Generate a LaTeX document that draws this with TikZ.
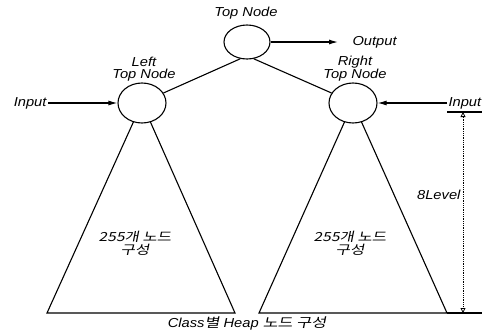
\documentclass[tikz,border=0pt]{standalone}
\usepackage{fontspec}
\setmainfont{Liberation Sans}[FakeStretch=1.13]
\newfontfamily\kr{Noto Sans CJK KR}[FakeSlant=0.2,FakeStretch=1.25]
\usetikzlibrary{shapes.geometric,arrows.meta}

\begin{document}
\begin{tikzpicture}[x=1pt, y=-1pt, line width=1.1pt,
	every node/.style={font=\fontsize{13}{12}\selectfont\itshape, inner sep=1pt},
	hnode/.style={draw, ellipse, fill=white, minimum width=48pt, minimum height=40pt, inner sep=0pt},
	feed/.style={-{Latex[length=9pt,width=5pt]}},
	dim/.style={densely dotted, line width=0.8pt, {Triangle[open,length=5pt,width=5pt]}-{Triangle[open,length=5pt,width=5pt]}}]
	\useasboundingbox (0,0) rectangle (488,333);
	% the two heaps
	\coordinate (lc) at (142,103);
	\coordinate (rc) at (353,103);
	\draw (lc) -- (47,313) -- (235,313) -- cycle;
	\draw (rc) -- (259,313) -- (447,313) -- cycle;
	\draw (447,313) -- (482,313);
	\draw (447,112) -- (482,112);
	\coordinate (dtop) at (463,112);
	\coordinate (dbot) at (463,313);
	\draw[dim] (dtop) -- (dbot);
	% nodes
	\node[hnode, minimum width=46pt, minimum height=34pt] (top) at (247,42) {};
	\node[hnode] (lt) at (lc) {};
	\node[hnode] (rt) at (rc) {};
	\node (toplbl) at (246,13) {Top Node};
	\node[align=center] (ltlbl) at (144,69) {Left\\Top Node};
	\node[align=center] (rtlbl) at (355,69) {Right\\Top Node};
	\node[anchor=east] (inl) at (48,103) {Input};
	\node[anchor=west] (inr) at (447,103) {Input};
	\node[anchor=west, inner xsep=14pt] (out) at (338,42) {Output};
	\node[anchor=east] (lvl) at (462,195) {8Level};
	\node[align=center, font=\fontsize{12.5}{13}\selectfont] (lheap) at (135,243) {\kr 255개 노드\\\kr 구성};
	\node[align=center, font=\fontsize{12.5}{13}\selectfont] (rheap) at (350,243) {\kr 255개 노드\\\kr 구성};
	\node (cap) at (247,323) {Class{\kr 별} Heap {\kr 노드 구성}};
	% links
	\draw (top.-112) -- (lt.25);
	\draw (top.-68) -- (rt.155);
	\draw[feed] (top) -- (out);
	\draw[feed] (inl) -- (lt);
	\draw[feed] (inr) -- (rt);
\end{tikzpicture}
\end{document}
